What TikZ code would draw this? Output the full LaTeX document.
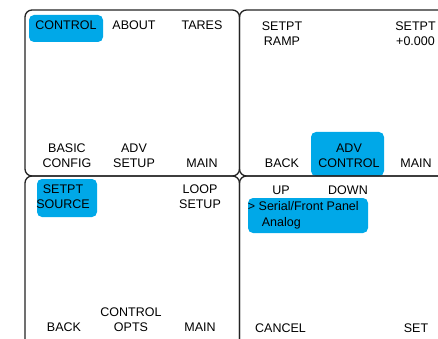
\documentclass[tikz,border=0pt]{standalone}
\usepackage{fontspec}
\setmainfont{Liberation Sans}
\usepackage{xcolor}
\definecolor{keyblue}{RGB}{0,168,232}
\definecolor{bezel}{RGB}{35,35,35}

\begin{document}
\begin{tikzpicture}[x=1pt,y=-1pt,
  screen/.style={draw=bezel,line width=1.3pt,rounded corners=7pt},
  sel/.style={fill=keyblue,rounded corners=5pt},
  key/.style={align=center,inner sep=0pt,font=\fontsize{12.5}{15}\selectfont}]
\useasboundingbox (0,0) rectangle (438,339);
\clip (0,0) rectangle (438,339);
% selected keys
\fill[sel] (29,15) rectangle (103,42);
\fill[sel] (311,132) rectangle (384,176);
\fill[sel] (37,179) rectangle (97,217);
\fill[sel] (248,198) rectangle (368,233);
% the four screens
\foreach \xa/\xb in {25/239.5,239.5/447}{
  \foreach \ya/\yb in {10/176,176/346}{
    \draw[screen] (\xa,\ya) rectangle (\xb,\yb);
  }
}
% main menu
\node[key] (control) at (66,25) {CONTROL};
\node[key] (about) at (134,25) {ABOUT};
\node[key] (tares) at (202,25) {TARES};
\node[key] (basic) at (67,155.5) {BASIC\\CONFIG};
\node[key] (advsetup) at (134,155.5) {ADV\\SETUP};
\node[key] (mainA) at (202,163) {MAIN};
% control menu
\node[key] (ramp) at (282,33.5) {SETPT\\RAMP};
\node[key] (setval) at (415.5,33.5) {SETPT\\+0.000};
\node[key] (backA) at (282,163) {BACK};
\node[key] (advctl) at (349,155.5) {ADV\\CONTROL};
\node[key] (mainB) at (416,163) {MAIN};
% advanced control
\node[key] (source) at (63,196.5) {SETPT\\SOURCE};
\node[key] (loop) at (200,196.5) {LOOP\\SETUP};
\node[key] (backB) at (64,327.5) {BACK};
\node[key] (opts) at (131,320) {CONTROL\\OPTS};
\node[key] (mainC) at (200,327.5) {MAIN};
% setpoint source list
\node[key] (up) at (281,190) {UP};
\node[key] (down) at (348,190) {DOWN};
\node[key,anchor=base west] (serial) at (247.7,210) {> Serial/Front Panel};
\node[key,anchor=base west] (analog) at (261.7,226.5) {Analog};
\node[key] (cancel) at (280.5,328) {CANCEL};
\node[key] (set) at (416,328) {SET};
\end{tikzpicture}
\end{document}
